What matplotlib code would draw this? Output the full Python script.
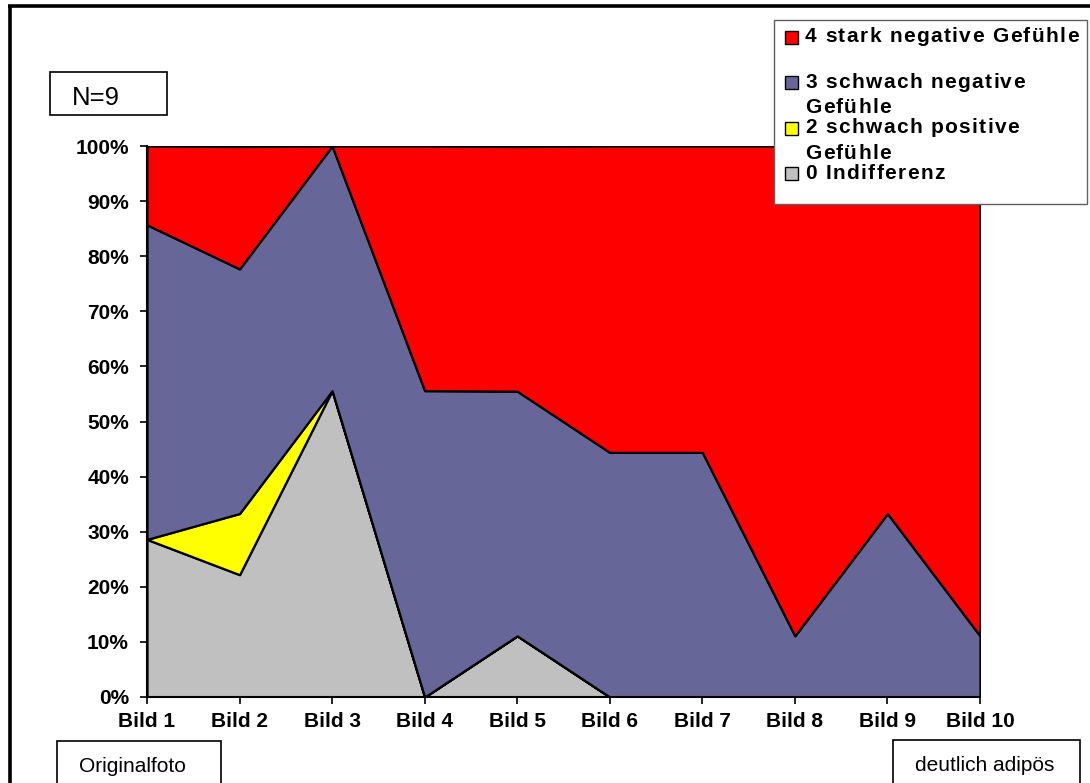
import matplotlib
matplotlib.use("Agg")
import matplotlib.pyplot as plt
from matplotlib.patches import Rectangle
from matplotlib.lines import Line2D
from matplotlib.font_manager import FontProperties, findfont
from matplotlib.ft2font import FT2Font

# ---- data (percent of answers per picture) ----
categories = ["Bild 1", "Bild 2", "Bild 3", "Bild 4", "Bild 5",
              "Bild 6", "Bild 7", "Bild 8", "Bild 9", "Bild 10"]
indifferenz = [28.6, 22.2, 55.6, 0.0, 11.1, 0.0, 0.0, 0.0, 0.0, 0.0]
schwach_positiv = [0.0, 11.1, 0.0, 0.0, 0.0, 0.0, 0.0, 0.0, 0.0, 0.0]
schwach_negativ = [57.1, 44.4, 44.4, 55.6, 44.4, 44.4, 44.4, 11.1, 33.3, 11.1]
stark_negativ = [14.3, 22.2, 0.0, 44.4, 44.4, 55.6, 55.6, 88.9, 66.7, 88.9]
y_ticks = [0, 10, 20, 30, 40, 50, 60, 70, 80, 90, 100]

series_labels = ["0 Indifferenz", "2 schwach positive Gefühle",
                 "3 schwach negative Gefühle", "4 stark negative Gefühle"]
colors = ["#C0C0C0", "#FFFF00", "#666699", "#FF0000"]

W, H = 1090, 783
FONT = "Liberation Sans"

fig = plt.figure(figsize=(W / 100, H / 100), dpi=100)
fig.patch.set_facecolor("white")


def fx(px):
    return px / W


def fy(py):
    return 1 - py / H


ax = fig.add_axes([fx(147), fy(697), fx(980) - fx(147), fy(146) - fy(697)])
x = list(range(len(categories)))
ax.stackplot(x, indifferenz, schwach_positiv, schwach_negativ, stark_negativ,
             colors=colors, edgecolor="black", linewidth=1.6)
ax.set_xlim(0, len(categories) - 1)
ax.set_ylim(0, 100)
ax.set_xticks(x)
ax.set_xticklabels(categories, fontfamily=FONT, fontweight="bold", fontsize=15)
ax.set_yticks(y_ticks)
ax.set_yticklabels([f"{v}%" for v in y_ticks], fontfamily=FONT,
                   fontweight="bold", fontsize=15)
ax.tick_params(axis="x", direction="out", length=5, width=1.2, pad=6)
ax.tick_params(axis="y", direction="out", length=5, width=1.2, pad=8)
for side in ("top", "right"):
    ax.spines[side].set_visible(False)
for side in ("left", "bottom"):
    ax.spines[side].set_linewidth(1.5)
ax.set_facecolor("white")

# ---- outer frame ----
fig.add_artist(Line2D([fx(9.5), fx(9.5)], [fy(5), 0], color="black", lw=2.6,
                      transform=fig.transFigure, solid_capstyle="butt"))
fig.add_artist(Line2D([fx(8), 1], [fy(5.5), fy(5.5)], color="black", lw=2.6,
                      transform=fig.transFigure, solid_capstyle="butt"))


def box(x0, y0, x1, y1, ec="black", lw=1.2):
    fig.add_artist(Rectangle((fx(x0), fy(y1)), fx(x1) - fx(x0), fy(y0) - fy(y1),
                             transform=fig.transFigure, facecolor="white",
                             edgecolor=ec, linewidth=lw, zorder=5))


# ---- annotation boxes ----
box(50, 72, 167, 115)
fig.text(fx(72), fy(105), "N=9", fontfamily=FONT, fontsize=18.5,
         va="baseline", ha="left", zorder=6)
box(57, 741, 221, 800)
fig.text(fx(79), fy(772), "Originalfoto", fontfamily=FONT, fontsize=15,
         va="baseline", ha="left", zorder=6)
box(893, 740, 1080, 800)
fig.text(fx(915), fy(771), "deutlich adipös", fontfamily=FONT, fontsize=15,
         va="baseline", ha="left", zorder=6)

# ---- legend with tracked bold lettering ----
LEG_SIZE = 15
bold_path = findfont(FontProperties(family=FONT, weight="bold"))
ft = FT2Font(bold_path)
ft.set_size(LEG_SIZE, 100)


def spaced_text(x_px, base_px, s, tracking=1.4):
    pos = x_px
    for ch in s:
        if ch != " ":
            fig.text(fx(pos), fy(base_px), ch, fontfamily=FONT, fontweight="bold",
                     fontsize=LEG_SIZE, va="baseline", ha="left", zorder=7)
        g = ft.load_char(ord(ch))
        pos += g.linearHoriAdvance / 65536 + tracking


box(774, 20, 1087, 204, ec="#606060", lw=1.0)
legend_rows = [
    ("#FF0000", 37.5, [("4 stark negative Gefühle", 42)]),
    ("#666699", 82, [("3 schwach negative", 88), ("Gefühle", 113)]),
    ("#FFFF00", 128, [("2 schwach positive", 133), ("Gefühle", 159)]),
    ("#C0C0C0", 173.5, [("0 Indifferenz", 179)]),
]
for color, cy, lines in legend_rows:
    fig.add_artist(Rectangle((fx(785), fy(cy + 6.5)), fx(13), 13 / H,
                             transform=fig.transFigure, facecolor=color,
                             edgecolor="black", linewidth=1.0, zorder=7))
    for txt, base in lines:
        spaced_text(805, base, txt)

fig.savefig("out.png", dpi=100, facecolor="white")
